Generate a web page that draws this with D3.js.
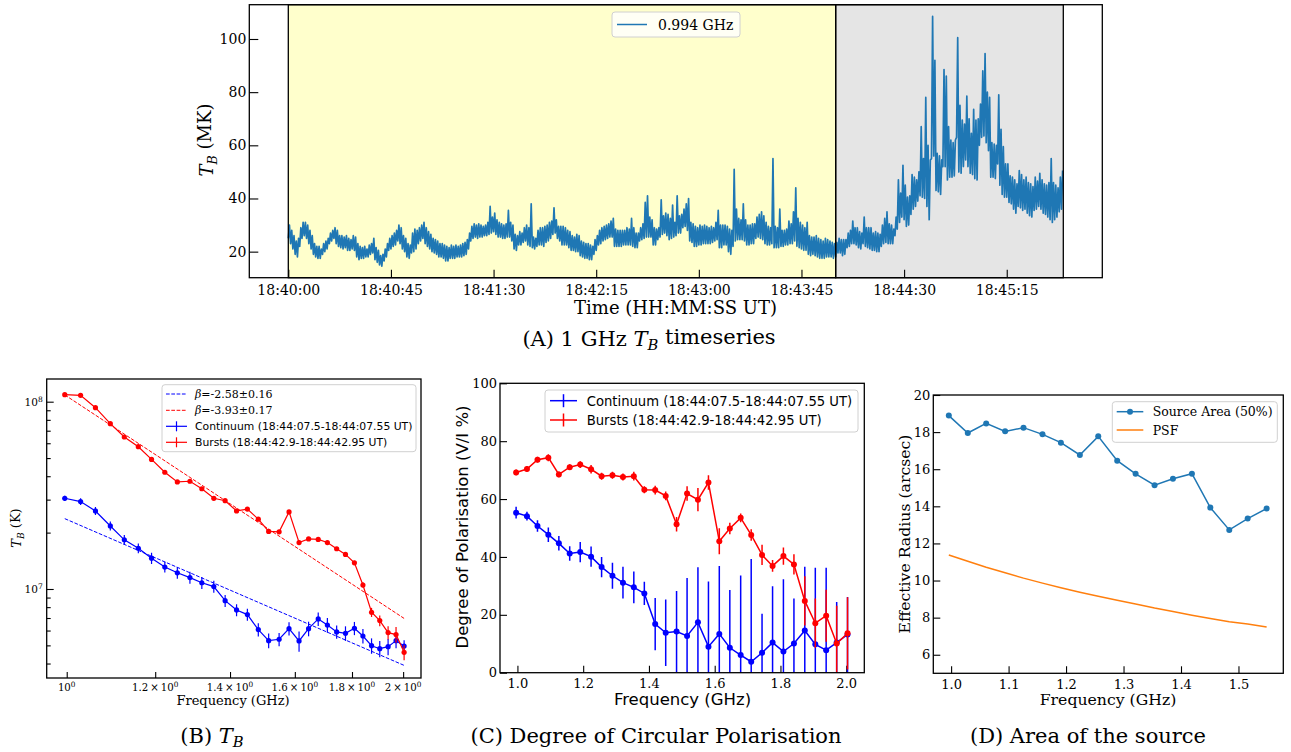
<!DOCTYPE html>
<html>
<head>
<meta charset="utf-8">
<script src="https://cdn.jsdelivr.net/npm/d3@7"></script>
<style>
  body { margin: 0; background: #fff; }
  svg { display: block; }
</style>
</head>
<body>
<svg id="fig" width="1291" height="752"></svg>
<script>
// ---------------- (A) 1 GHz brightness-temperature time series ----------------
// Seconds after 18:40:00 UT for the time ticks, and their labels
const timeTickSeconds = [0, 45, 90, 135, 180, 225, 270, 315];
const timeTickLabels = ["18:40:00", "18:40:45", "18:41:30", "18:42:15", "18:43:00", "18:43:45", "18:44:30", "18:45:15"];
const tbTickValues = [20, 40, 60, 80, 100];
// Shaded intervals (seconds after 18:40:00)
const quietSpan = [0, 240];
const burstSpan = [240, 339.8];
// Per-second upper and lower envelope of T_B at 0.994 GHz (MK), t = 0..339 s
const tbHigh = [
  30, 28, 26, 24, 25, 29, 31, 31, 30, 28,
  26, 23, 22, 22, 21, 23, 24, 25, 27, 28,
  29, 28, 26, 26, 25.5, 26, 25, 24.5, 26, 25.5,
  23, 22, 21.5, 22, 21, 22.5, 23, 25, 21.5, 20.5,
  18.5, 19, 21, 23, 25, 26, 27, 28, 30, 29,
  26, 25, 23, 22.5, 27, 28.5, 28, 29, 30, 31,
  29, 27.5, 26.5, 25, 24.5, 24, 23, 23, 22.5, 22,
  21.5, 22.5, 22, 22.5, 22, 22.5, 23, 23.5, 24.5, 27,
  29.5, 30.5, 30, 30.5, 30, 29.5, 30, 31, 37, 33,
  34.5, 32, 31, 30.5, 30, 30.5, 35.5, 31, 30, 26.5,
  26, 27.5, 27, 29, 30, 29, 38, 25.5, 25, 28,
  29, 29, 29.5, 30, 31, 31.5, 36.5, 32, 29.5, 29.5,
  29.5, 29, 28, 27.5, 26, 25.5, 26.5, 26, 24, 23.5,
  23, 23, 22.5, 22, 24.5, 26, 28, 29, 29.5, 30,
  30.5, 31.5, 32.5, 28.5, 28, 28, 28, 28, 29, 28.5,
  32.5, 29, 27, 27, 29, 30.5, 38.5, 41, 33, 32,
  29, 28.5, 29, 39.5, 33.5, 34.5, 34, 32.5, 37.5, 31,
  41, 33.5, 34, 36, 38, 40, 31, 30.5, 29.5, 29,
  30, 29.5, 30, 29.5, 29, 29.5, 29, 31, 35.5, 30,
  30, 30, 29.5, 28.5, 28, 51, 36, 32.5, 32, 38,
  32, 30, 30, 30.5, 30.5, 33, 34, 35, 33.5, 31,
  29.5, 29, 55, 29.5, 29, 36, 28, 28, 28.5, 31.5,
  30.5, 35, 44, 32.5, 31, 30, 29, 31, 26, 25.5,
  25.5, 26, 25, 24.5, 24, 25, 24.5, 24, 23.5, 23,
  23.5, 25, 24.5, 24.5, 24.5, 27, 28, 31.5, 29, 29,
  27.5, 27, 33, 29, 29, 29, 27, 27.5, 27, 26.5,
  30, 32.5, 35, 30.5, 30, 28.5, 33, 47, 42, 52.5,
  45, 40.5, 41, 49, 48, 47, 50, 67, 55, 78,
  60, 54.5, 108.5, 92, 57, 56, 54.5, 88.5, 86, 67,
  62, 61, 62, 100.5, 75, 69.5, 68, 78.5, 70, 64.5,
  73.5, 69.5, 70, 75.5, 88, 94.5, 80, 78, 61, 60.5,
  60, 79, 66, 59.5, 53, 53, 48.5, 48, 47, 45.5,
  50.5, 49, 47, 48, 46, 45.5, 44.5, 48, 46.5, 49.5,
  47, 45.5, 45, 46, 55, 46, 45, 44, 48, 50.5
];
const tbLow = [
  25, 23, 21, 19, 18, 22, 25, 26, 25, 23,
  21, 19, 18, 17.5, 17.5, 19, 20, 21, 23, 24,
  25, 23, 22, 21.5, 21, 21.5, 20.5, 20.5, 21, 20.5,
  18, 17, 17.5, 17.5, 18, 18, 19, 19.5, 17, 16,
  15, 14.5, 16.5, 18, 20.5, 21, 22, 22.5, 24, 23,
  21, 20, 18, 17.5, 19.5, 20, 21, 23, 24, 25,
  23, 22, 21, 20, 19.5, 19, 18, 18, 17.5, 16.5,
  16.5, 17.5, 17.5, 17.5, 18, 18, 18, 18.5, 19, 21,
  24, 25, 25.5, 25, 25.5, 25.5, 26, 26, 26.5, 27,
  27.5, 26.5, 25.5, 25.5, 25, 25, 25.5, 25.5, 24, 21,
  20.5, 22.5, 22.5, 23.5, 24, 22.5, 22, 21.5, 21, 22,
  22.5, 22.5, 22, 23.5, 24, 25, 26.5, 27, 25, 24,
  22.5, 22.5, 22.5, 21.5, 20.5, 20.5, 20, 20, 18.5, 18,
  17.5, 17.5, 17, 17, 19, 20.5, 22.5, 23, 24, 24.5,
  25, 25.5, 25.5, 22, 22, 22, 22, 22.5, 22.5, 22.5,
  22.5, 22, 21.5, 21.5, 24, 24.5, 25, 25.5, 25.5, 25.5,
  22.5, 22.5, 24.5, 25.5, 26.5, 27, 26, 24.5, 25, 25.5,
  26, 27, 27, 29, 29.5, 28, 24, 23.5, 22, 22,
  22.5, 22.5, 23, 23, 23, 23, 23.5, 24, 24.5, 21.5,
  21.5, 22.5, 22.5, 20, 19, 22, 24, 24.5, 24.5, 24.5,
  24, 22.5, 22.5, 23, 23, 25, 25.5, 25, 24.5, 23,
  22.5, 22.5, 23, 21.5, 21.5, 21.5, 22, 22, 22.5, 22.5,
  23, 23, 24, 22, 21.5, 21, 20.5, 20.5, 19, 18.5,
  19, 18.5, 18, 17.5, 17.5, 17.5, 18, 18, 18, 17.5,
  18, 19.5, 19.5, 18.5, 19, 21.5, 22, 23, 23, 22.5,
  21.5, 21, 23, 22, 21.5, 21, 20.5, 20.5, 20, 20,
  22, 23, 23.5, 23, 23, 23, 26, 28.5, 31, 33,
  32, 29.5, 30, 34, 36, 37, 39, 41, 40.5, 40,
  37, 32, 55, 56, 43, 42.5, 41.5, 52, 52, 47,
  48, 48, 48.5, 63, 50, 49.5, 52, 54.5, 52, 49.5,
  49, 47.5, 47, 60, 63, 63.5, 61, 58, 48, 48,
  47.5, 53, 45, 41.5, 40.5, 40.5, 38.5, 38, 36, 34.5,
  37, 36.5, 35.5, 36, 34.5, 33.5, 33, 35.5, 36, 37,
  36, 34.5, 34, 33, 32, 31, 32, 33, 35, 36
];

// ---------------- Spectral data (B, C, D) ----------------
const freqGHz = [0.996, 1.029, 1.061, 1.094, 1.126, 1.159, 1.191, 1.224, 1.256, 1.289,
                 1.321, 1.354, 1.386, 1.419, 1.451, 1.484, 1.516, 1.549, 1.581, 1.614,
                 1.646, 1.679, 1.711, 1.744, 1.776, 1.809, 1.841, 1.874, 1.906, 1.939,
                 1.971, 2.004];
// (B) brightness temperature spectra (K)
const tbContinuum = [3.05e7, 2.93e7, 2.61e7, 2.17e7, 1.83e7, 1.65e7, 1.46e7, 1.31e7, 1.22e7, 1.15e7,
                     1.08e7, 1.03e7, 8.66e6, 7.73e6, 7.30e6, 6.07e6, 5.30e6, 5.39e6, 6.14e6, 5.28e6,
                     6.14e6, 6.92e6, 6.42e6, 5.90e6, 5.80e6, 6.17e6, 5.61e6, 4.98e6, 4.80e6, 4.92e6,
                     5.30e6, 4.96e6];
const tbContinuumErr = [1.0e6, 1.2e6, 1.3e6, 1.2e6, 1.1e6, 1.0e6, 1.0e6, 0.87e6, 0.85e6, 0.85e6,
                        0.8e6, 0.76e6, 0.64e6, 0.57e6, 0.54e6, 0.5e6, 0.48e6, 0.44e6, 0.5e6, 0.65e6,
                        0.55e6, 0.57e6, 0.58e6, 0.48e6, 0.52e6, 0.5e6, 0.5e6, 0.47e6, 0.48e6, 0.49e6,
                        0.48e6, 0.37e6];
const tbBursts = [1.09e8, 1.081e8, 9.29e7, 7.63e7, 6.48e7, 5.75e7, 4.92e7, 4.20e7, 3.73e7, 3.76e7,
                  3.43e7, 3.05e7, 2.96e7, 2.61e7, 2.67e7, 2.36e7, 2.03e7, 2.02e7, 2.58e7, 1.77e7,
                  1.85e7, 1.84e7, 1.77e7, 1.64e7, 1.53e7, 1.38e7, 1.05e7, 7.51e6, 6.78e6, 5.85e6,
                  5.71e6, 4.59e6];
const tbBurstsErr = [1.5e6, 1.5e6, 1.3e6, 1.1e6, 0.9e6, 0.8e6, 0.7e6, 0.6e6, 0.55e6, 0.55e6,
                     0.5e6, 0.45e6, 0.45e6, 0.4e6, 0.4e6, 0.35e6, 0.35e6, 0.35e6, 0.45e6, 0.35e6,
                     0.35e6, 0.35e6, 0.35e6, 0.35e6, 0.35e6, 0.35e6, 0.35e6, 0.42e6, 0.45e6, 0.47e6,
                     0.55e6, 0.42e6];
// Power-law fits T_B = A * f^beta
const fitBeta = [-2.58, -3.93];
const fitBetaErr = [0.16, 0.17];
const fitAmplitude = [2.35e7, 1.07e8];
// (C) degree of circular polarisation (%)
const polContinuum = [55.3, 54.1, 50.7, 47.7, 44.7, 41.2, 41.7, 40.1, 36.5, 33.5,
                      31.1, 29.5, 27.4, 16.8, 13.8, 14.2, 12.7, 17.4, 9.0, 13.4,
                      8.6, 6.1, 3.8, 6.9, 10.4, 7.3, 10.1, 14.6, 9.8, 7.8,
                      10.4, 13.2];
const polContinuumErr = [2, 1.5, 2, 2.5, 2.5, 2.5, 3.5, 3.5, 3.5, 4.5,
                         5.5, 5.5, 4, 9, 11.5, 14, 20, 19, 22.5, 23.5,
                         20, 27.5, 35.5, 13.5, 19.5, 25, 15.5, 22, 26.5, 28.5,
                         14, 13];
const polBursts = [69.2, 70.4, 73.6, 74.3, 68.5, 71.0, 71.9, 70.3, 67.9, 68.2,
                   67.6, 67.9, 63.2, 63.1, 61.1, 51.3, 61.9, 59.8, 65.7, 45.4,
                   49.8, 53.5, 47.6, 40.7, 36.9, 40.3, 37.4, 24.8, 17.1, 19.7,
                   10.1, 13.6];
const polBurstsErr = [1, 1, 1, 1.2, 1, 1, 1.2, 1.5, 1.2, 1.2,
                      1.2, 1.5, 1.2, 1.5, 1.5, 2.5, 2.5, 4, 2.5, 4.5,
                      2, 1.5, 2, 3.5, 2, 3, 3.5, 8.5, 8.5, 9,
                      13, 12.5];
// (D) effective radius of the source and of the PSF (arcsec), first 18 channels
const radiusSource = [18.89, 17.95, 18.47, 18.04, 18.24, 17.88, 17.43, 16.77, 17.77,
                      16.46, 15.75, 15.14, 15.49, 15.76, 13.93, 12.73, 13.34, 13.88];
const radiusPSF = [11.38, 11.04, 10.72, 10.42, 10.13, 9.86, 9.61, 9.37, 9.15,
                   8.94, 8.74, 8.52, 8.33, 8.13, 7.95, 7.78, 7.66, 7.49];

// ---------------- drawing ----------------
const SERIF = "'DejaVu Serif', serif";
const SANS = "'DejaVu Sans', sans-serif";
const BLUE = "#0000ff", RED = "#ff0000", MPL_BLUE = "#1f77b4", MPL_ORANGE = "#ff7f0e";

const svg = d3.select("#fig");
svg.append("rect").attr("width", 1291).attr("height", 752).attr("fill", "#fff");
const defs = svg.append("defs");

function clipFor(id, box) {
  defs.append("clipPath").attr("id", id).append("rect")
    .attr("x", box.left).attr("y", box.top)
    .attr("width", box.right - box.left).attr("height", box.bottom - box.top);
  return `url(#${id})`;
}
function frame(box) {
  svg.append("rect").attr("x", box.left).attr("y", box.top)
    .attr("width", box.right - box.left).attr("height", box.bottom - box.top)
    .attr("fill", "none").attr("stroke", "#000").attr("stroke-width", 1.3);
}
function styleAxis(g, font, size) {
  g.select(".domain").remove();
  g.attr("font-family", font).attr("font-size", size);
  g.selectAll(".tick line").attr("stroke", "#000").attr("stroke-width", 1.1);
  g.selectAll(".tick text").attr("fill", "#000");
}
// Text with an italic T and subscript B followed by a plain suffix
function tbText(sel, prefix, suffix) {
  if (prefix) sel.append("tspan").text(prefix);
  sel.append("tspan").attr("font-style", "italic").text("T");
  sel.append("tspan").attr("font-style", "italic").attr("font-size", "70%").attr("dy", "0.3em").text("B");
  sel.append("tspan").attr("dy", "-0.3em").text(suffix);
  return sel;
}
function legendBox(x, y, w, h) {
  svg.append("rect").attr("x", x).attr("y", y).attr("width", w).attr("height", h).attr("rx", 3)
    .attr("fill", "#fff").attr("fill-opacity", 0.8).attr("stroke", "#d0d0d0").attr("stroke-width", 1);
}
function caption(cx, y, build) {
  const t = svg.append("text").attr("x", cx).attr("y", y).attr("text-anchor", "middle")
    .attr("font-family", SERIF).attr("font-size", 21).attr("fill", "#000");
  build(t);
}

// ===== Panel A =====
const A = { left: 249.3, right: 1102.3, top: 4.7, bottom: 277.7 };
const xA = d3.scaleLinear().domain([-17.1, 356.9]).range([A.left, A.right]);
const yA = d3.scaleLinear().domain([10.2, 112.9]).range([A.bottom, A.top]);
const clipA = clipFor("clipA", A);

svg.append("rect").attr("x", xA(quietSpan[0])).attr("y", A.top)
  .attr("width", xA(quietSpan[1]) - xA(quietSpan[0])).attr("height", A.bottom - A.top)
  .attr("fill", "#ffffcc");
svg.append("rect").attr("x", xA(burstSpan[0])).attr("y", A.top)
  .attr("width", xA(burstSpan[1]) - xA(burstSpan[0])).attr("height", A.bottom - A.top)
  .attr("fill", "#e5e5e5");

// trace the envelope: low then high sample within each second
const tsPoints = [];
tbHigh.forEach((hi, i) => {
  tsPoints.push([i, tbLow[i]]);
  tsPoints.push([i + 0.5, hi]);
});
svg.append("path").attr("clip-path", clipA)
  .attr("d", d3.line().x(d => xA(d[0])).y(d => yA(d[1]))(tsPoints))
  .attr("fill", "none").attr("stroke", MPL_BLUE).attr("stroke-width", 1.7).attr("stroke-linejoin", "round");

[quietSpan, burstSpan].forEach(s => {
  svg.append("rect").attr("x", xA(s[0])).attr("y", A.top)
    .attr("width", xA(s[1]) - xA(s[0])).attr("height", A.bottom - A.top)
    .attr("fill", "none").attr("stroke", "#000").attr("stroke-width", 1.3);
});

const axA_x = svg.append("g").attr("transform", `translate(0,${A.bottom})`)
  .call(d3.axisBottom(xA).tickValues(timeTickSeconds).tickFormat((d, i) => timeTickLabels[i]).tickSize(-8).tickPadding(7));
styleAxis(axA_x, SERIF, 14);
const axA_y = svg.append("g").attr("transform", `translate(${A.left},0)`)
  .call(d3.axisLeft(yA).tickValues(tbTickValues).tickFormat(d3.format("d")).tickSize(-9).tickPadding(3));
styleAxis(axA_y, SERIF, 14);
frame(A);

svg.append("text").attr("x", 675.5).attr("y", 314).attr("text-anchor", "middle")
  .attr("font-family", SERIF).attr("font-size", 18).text("Time (HH:MM:SS UT)");
tbText(svg.append("text").attr("transform", "translate(213,140) rotate(-90)").attr("text-anchor", "middle")
  .attr("font-family", SERIF).attr("font-size", 18), "", " (MK)");

legendBox(612, 12, 128, 25);
svg.append("line").attr("x1", 617).attr("x2", 647).attr("y1", 24.5).attr("y2", 24.5)
  .attr("stroke", MPL_BLUE).attr("stroke-width", 1.5);
svg.append("text").attr("x", 658).attr("y", 29.5).attr("font-family", SERIF).attr("font-size", 14).text("0.994 GHz");

caption(649, 346, t => tbText(t, "(A) 1 GHz ", " timeseries"));

// ===== Panel B =====
const B = { left: 46.7, right: 421, top: 379, bottom: 678 };
const xB = d3.scaleLog().domain([0.9596, 2.075]).range([B.left, B.right]);
const yB = d3.scaleLog().domain([3.348e6, 1.3218e8]).range([B.bottom, B.top]);
const clipB = clipFor("clipB", B);

const fTicksB = [1.0, 1.2, 1.4, 1.6, 1.8, 2.0];
const fTickLabelsB = [["10", "0"], ["1.2\u2009×\u200910", "0"], ["1.4\u2009×\u200910", "0"], ["1.6\u2009×\u200910", "0"], ["1.8\u2009×\u200910", "0"], ["2\u2009×\u200910", "0"]];
const tbMajorB = [1e7, 1e8];
const tbMajorLabelsB = [["10", "7"], ["10", "8"]];
const tbMinorB = [4e6, 5e6, 6e6, 7e6, 8e6, 9e6, 2e7, 3e7, 4e7, 5e7, 6e7, 7e7, 8e7, 9e7];

const axB_x = svg.append("g").attr("transform", `translate(0,${B.bottom})`)
  .call(d3.axisBottom(xB).tickValues(fTicksB).tickFormat("").tickSize(-6));
styleAxis(axB_x, SERIF, 11);
const axB_y = svg.append("g").attr("transform", `translate(${B.left},0)`)
  .call(d3.axisLeft(yB).tickValues(tbMajorB).tickFormat("").tickSize(-7));
styleAxis(axB_y, SERIF, 11);
const axB_ym = svg.append("g").attr("transform", `translate(${B.left},0)`)
  .call(d3.axisLeft(yB).tickValues(tbMinorB).tickFormat("").tickSize(-4));
styleAxis(axB_ym, SERIF, 11);

function supLabel(x, y, parts, anchor, size) {
  const t = svg.append("text").attr("x", x).attr("y", y).attr("text-anchor", anchor)
    .attr("font-family", SERIF).attr("font-size", size).attr("fill", "#000");
  t.append("tspan").text(parts[0]);
  t.append("tspan").attr("font-size", size * 0.72).attr("dy", "-0.55em").text(parts[1]);
}
fTicksB.forEach((f, i) => supLabel(xB(f), 691, fTickLabelsB[i], "middle", 10.2));
tbMajorB.forEach((v, i) => supLabel(B.left - 4, yB(v) + 4, tbMajorLabelsB[i], "end", 10.5));

// power-law fits
[0, 1].forEach(k => {
  const f0 = freqGHz[0], f1 = freqGHz[freqGHz.length - 1];
  svg.append("line").attr("clip-path", clipB)
    .attr("x1", xB(f0)).attr("y1", yB(fitAmplitude[k] * Math.pow(f0, fitBeta[k])))
    .attr("x2", xB(f1)).attr("y2", yB(fitAmplitude[k] * Math.pow(f1, fitBeta[k])))
    .attr("stroke", k === 0 ? BLUE : RED).attr("stroke-width", 1).attr("stroke-dasharray", "3.7,1.6");
});

function errSeries(xs, ys, vals, errs, color, clip, opt) {
  const g = svg.append("g").attr("clip-path", clip);
  vals.forEach((v, i) => {
    g.append("line").attr("x1", xs(freqGHz[i])).attr("x2", xs(freqGHz[i]))
      .attr("y1", ys(Math.max(v - errs[i], opt.floor))).attr("y2", ys(v + errs[i]))
      .attr("stroke", color).attr("stroke-width", opt.lw);
  });
  g.append("path").attr("d", d3.line().x((d, i) => xs(freqGHz[i])).y(d => ys(d))(vals))
    .attr("fill", "none").attr("stroke", color).attr("stroke-width", opt.lw);
  vals.forEach((v, i) => {
    g.append("circle").attr("cx", xs(freqGHz[i])).attr("cy", ys(v)).attr("r", opt.r).attr("fill", color);
  });
}
errSeries(xB, yB, tbContinuum, tbContinuumErr, BLUE, clipB, { lw: 1.2, r: 2.6, floor: 1e5 });
errSeries(xB, yB, tbBursts, tbBurstsErr, RED, clipB, { lw: 1.2, r: 2.6, floor: 1e5 });
frame(B);

tbText(svg.append("text").attr("transform", "translate(21,528) rotate(-90)").attr("text-anchor", "middle")
  .attr("font-family", SERIF).attr("font-size", 13), "", " (K)");
svg.append("text").attr("x", 233).attr("y", 705).attr("text-anchor", "middle")
  .attr("font-family", SERIF).attr("font-size", 13).text("Frequency (GHz)");

// legend B
legendBox(162, 384.7, 254, 67);
const legRowsB = [394, 410.3, 426.3, 442.3];
[0, 1].forEach(k => {
  svg.append("line").attr("x1", 166).attr("x2", 187).attr("y1", legRowsB[k]).attr("y2", legRowsB[k])
    .attr("stroke", k === 0 ? BLUE : RED).attr("stroke-width", 1).attr("stroke-dasharray", "3.7,1.6");
  const t = svg.append("text").attr("x", 195).attr("y", legRowsB[k] + 4)
    .attr("font-family", SERIF).attr("font-size", 11);
  t.append("tspan").attr("font-style", "italic").text("β");
  t.append("tspan").text(`=${fitBeta[k].toFixed(2)}±${fitBetaErr[k].toFixed(2)}`);
});
function errHandle(x1, x2, y, half, color, lw) {
  svg.append("line").attr("x1", x1).attr("x2", x2).attr("y1", y).attr("y2", y).attr("stroke", color).attr("stroke-width", lw);
  svg.append("line").attr("x1", (x1 + x2) / 2).attr("x2", (x1 + x2) / 2).attr("y1", y - half).attr("y2", y + half)
    .attr("stroke", color).attr("stroke-width", lw);
}
const seriesNames = ["Continuum (18:44:07.5-18:44:07.55 UT)", "Bursts (18:44:42.9-18:44:42.95 UT)"];
[0, 1].forEach(k => {
  errHandle(166, 187, legRowsB[k + 2], 5, k === 0 ? BLUE : RED, 1.2);
  svg.append("text").attr("x", 195).attr("y", legRowsB[k + 2] + 4)
    .attr("font-family", SANS).attr("font-size", 10.8).text(seriesNames[k]);
});

caption(212, 743, t => tbText(t, "(B) ", ""));

// ===== Panel C =====
const C = { left: 500, right: 864.3, top: 383.3, bottom: 672.7 };
const xC = d3.scaleLinear().domain([0.947, 2.055]).range([C.left, C.right]);
const yC = d3.scaleLinear().domain([0, 100]).range([C.bottom, C.top]);
const clipC = clipFor("clipC", C);
const fTicksC = [1.0, 1.2, 1.4, 1.6, 1.8, 2.0];
const polTicks = [0, 20, 40, 60, 80, 100];

const axC_x = svg.append("g").attr("transform", `translate(0,${C.bottom})`)
  .call(d3.axisBottom(xC).tickValues(fTicksC).tickFormat(d3.format(".1f")).tickSize(-7).tickPadding(6));
styleAxis(axC_x, SERIF, 13);
const axC_y = svg.append("g").attr("transform", `translate(${C.left},0)`)
  .call(d3.axisLeft(yC).tickValues(polTicks).tickFormat(d3.format("d")).tickSize(-7).tickPadding(3));
styleAxis(axC_y, SERIF, 13);

errSeries(xC, yC, polContinuum, polContinuumErr, BLUE, clipC, { lw: 1.5, r: 3, floor: -50 });
errSeries(xC, yC, polBursts, polBurstsErr, RED, clipC, { lw: 1.5, r: 3, floor: -50 });
frame(C);

svg.append("text").attr("transform", "translate(467.5,527) rotate(-90)").attr("text-anchor", "middle")
  .attr("font-family", SANS).attr("font-size", 16.5).text("Degree of Polarisation (V/I %)");
svg.append("text").attr("x", 682.5).attr("y", 704.5).attr("text-anchor", "middle")
  .attr("font-family", SANS).attr("font-size", 16.5).text("Frequency (GHz)");

legendBox(545, 390, 313, 42);
const legRowsC = [400.7, 420];
[0, 1].forEach(k => {
  errHandle(550, 577, legRowsC[k], 6.5, k === 0 ? BLUE : RED, 1.5);
  svg.append("text").attr("x", 586.7).attr("y", legRowsC[k] + 5)
    .attr("font-family", SANS).attr("font-size", 13.2).text(seriesNames[k]);
});

caption(656, 743, t => t.text("(C) Degree of Circular Polarisation"));

// ===== Panel D =====
const D = { left: 933.3, right: 1283.3, top: 395, bottom: 673.3 };
const xD = d3.scaleLinear().domain([0.969, 1.578]).range([D.left, D.right]);
const yD = d3.scaleLinear().domain([5, 20]).range([D.bottom, D.top]);
const fTicksD = [1.0, 1.1, 1.2, 1.3, 1.4, 1.5];
const radiusTicks = [6, 8, 10, 12, 14, 16, 18, 20];
const freqD = freqGHz.slice(0, radiusSource.length);

const axD_x = svg.append("g").attr("transform", `translate(0,${D.bottom})`)
  .call(d3.axisBottom(xD).tickValues(fTicksD).tickFormat(d3.format(".1f")).tickSize(-7).tickPadding(6));
styleAxis(axD_x, SERIF, 13);
const axD_y = svg.append("g").attr("transform", `translate(${D.left},0)`)
  .call(d3.axisLeft(yD).tickValues(radiusTicks).tickFormat(d3.format("d")).tickSize(-7).tickPadding(3));
styleAxis(axD_y, SERIF, 13);

svg.append("path").attr("d", d3.line().x((d, i) => xD(freqD[i])).y(d => yD(d))(radiusPSF))
  .attr("fill", "none").attr("stroke", MPL_ORANGE).attr("stroke-width", 1.5);
svg.append("path").attr("d", d3.line().x((d, i) => xD(freqD[i])).y(d => yD(d))(radiusSource))
  .attr("fill", "none").attr("stroke", MPL_BLUE).attr("stroke-width", 1.5);
radiusSource.forEach((v, i) => {
  svg.append("circle").attr("cx", xD(freqD[i])).attr("cy", yD(v)).attr("r", 3).attr("fill", MPL_BLUE);
});
frame(D);

svg.append("text").attr("transform", "translate(909.5,534) rotate(-90)").attr("text-anchor", "middle")
  .attr("font-family", SERIF).attr("font-size", 15.7).text("Effective Radius (arcsec)");
svg.append("text").attr("x", 1108).attr("y", 705).attr("text-anchor", "middle")
  .attr("font-family", SERIF).attr("font-size", 15.7).text("Frequency (GHz)");

legendBox(1112.3, 401.7, 165, 40.6);
svg.append("line").attr("x1", 1116.7).attr("x2", 1143.3).attr("y1", 411.7).attr("y2", 411.7)
  .attr("stroke", MPL_BLUE).attr("stroke-width", 1.5);
svg.append("circle").attr("cx", 1130).attr("cy", 411.7).attr("r", 3).attr("fill", MPL_BLUE);
svg.append("line").attr("x1", 1116.7).attr("x2", 1143.3).attr("y1", 430).attr("y2", 430)
  .attr("stroke", MPL_ORANGE).attr("stroke-width", 1.5);
svg.append("text").attr("x", 1152.7).attr("y", 416.2).attr("font-family", SERIF).attr("font-size", 12.5).text("Source Area (50%)");
svg.append("text").attr("x", 1152.7).attr("y", 434.5).attr("font-family", SERIF).attr("font-size", 12.5).text("PSF");

caption(1088, 743, t => t.text("(D) Area of the source"));
</script>
</body>
</html>
